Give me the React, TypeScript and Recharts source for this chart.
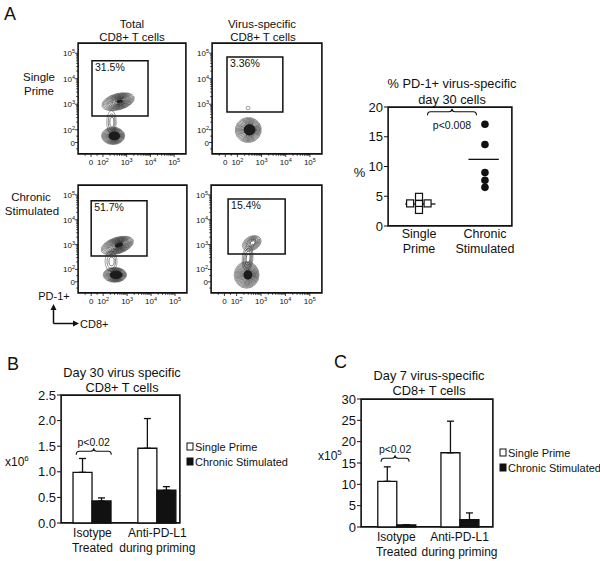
import {
  Bar,
  BarChart,
  ErrorBar,
  ReferenceArea,
  ReferenceDot,
  ReferenceLine,
  Scatter,
  ScatterChart,
  XAxis,
  YAxis,
} from "recharts";

const FONT = '"Liberation Sans", Arial, Helvetica, sans-serif';
const INK = "#111";

// ---- A: flow plots, axes in display decades: 0, 10^2 .. 10^5
const flowMajor = [0, 0.5, 1.5, 2.5, 3.5];
const flowMinor = [-0.25, 0.25];
for (let dec = 0; dec < 3; dec++) {
  for (let k = 2; k <= 9; k++) flowMinor.push(0.5 + dec + Math.log10(k));
}
const flowTicks = [...flowMajor, ...flowMinor];
const FLOW_X: [number, number] = [-0.55, 4.0];
const FLOW_Y: [number, number] = [-0.45, 3.9];

interface Blob {
  x: number;
  y: number;
  rx: number;
  ry: number;
  angle: number;
  rings: number;
  core: number;
}

const singleTotalBlobs: Blob[] = [
  { x: 0.86, y: 0.8, rx: 0.2, ry: 0.45, angle: 0, rings: 3, core: 0 },
  { x: 1.14, y: 1.6, rx: 0.7, ry: 0.32, angle: -15, rings: 12, core: 0.2 },
  { x: 0.93, y: 0.26, rx: 0.49, ry: 0.34, angle: 0, rings: 14, core: 0.5 },
];
const singleVirusBlobs: Blob[] = [
  { x: 0.94, y: 1.35, rx: 0.08, ry: 0.07, angle: 0, rings: 1, core: 0 },
  { x: 0.95, y: 0.49, rx: 0.54, ry: 0.49, angle: -10, rings: 12, core: 0.45 },
];
const chronicTotalBlobs: Blob[] = [
  { x: 0.83, y: 0.82, rx: 0.25, ry: 0.4, angle: 0, rings: 3, core: 0 },
  { x: 1.09, y: 1.46, rx: 0.7, ry: 0.33, angle: -18, rings: 13, core: 0.25 },
  { x: 0.99, y: 0.28, rx: 0.49, ry: 0.3, angle: 0, rings: 14, core: 0.55 },
];
const chronicVirusBlobs: Blob[] = [
  { x: 0.95, y: 0.95, rx: 0.22, ry: 0.5, angle: 5, rings: 4, core: 0 },
  { x: 1.12, y: 1.55, rx: 0.41, ry: 0.28, angle: -30, rings: 7, core: 0 },
  { x: 0.91, y: 0.28, rx: 0.51, ry: 0.54, angle: 0, rings: 13, core: 0.35 },
];

interface Gate {
  x1: number;
  x2: number;
  y1: number;
  y2: number;
  label: string;
}
const singleTotalGate: Gate = { x1: 0.04, x2: 2.4, y1: 1.04, y2: 3.2, label: "31.5%" };
const singleVirusGate: Gate = { x1: 0.07, x2: 2.38, y1: 1.2, y2: 3.35, label: "3.36%" };
const chronicTotalGate: Gate = { x1: 0.0, x2: 2.33, y1: 1.04, y2: 3.27, label: "51.7%" };
const chronicVirusGate: Gate = { x1: 0.15, x2: 2.49, y1: 1.12, y2: 3.34, label: "15.4%" };

// ---- A: dot plot
const dotGroups = [1, 2];
const dotGroupLabels = [["Single", "Prime"], ["Chronic", "Stimulated"]];
const singlePrimeX = [1, 0.865, 1, 1.13, 1];
const singlePrimePct = [4.9, 3.8, 3.7, 3.8, 2.7];
const chronicX = [2, 2, 2, 2, 2];
const chronicPct = [17.1, 13.7, 9.0, 7.7, 6.5];
const dotMeans = [3.7, 11.2];
const dotTicks = [0, 5, 10, 15, 20];

// ---- B and C: bars
const seriesNames = ["Single Prime", "Chronic Stimulated"];
const barGroups = [1, 2];
const barGroupLabels = [["Isotype", "Treated"], ["Anti-PD-L1", "during priming"]];
const day30Single = [0.99, 1.46];
const day30SingleSem = [0.27, 0.58];
const day30Chronic = [0.43, 0.64];
const day30ChronicSem = [0.06, 0.07];
const day30Ticks = [0, 0.5, 1, 1.5, 2, 2.5];
const day7Single = [10.7, 17.4];
const day7SingleSem = [3.4, 7.4];
const day7Chronic = [0.5, 1.7];
const day7ChronicSem = [0, 1.6];
const day7Ticks = [0, 5, 10, 15, 20, 25, 30];

const isMajor = (v: number) => flowMajor.findIndex((m) => Math.abs(m - v) < 1e-6);

function FlowLabel({ x, y, i, anchor }: { x: number; y: number; i: number; anchor: string }) {
  if (i === 0)
    return (
      <text x={x} y={y} textAnchor={anchor} fontSize={8} fill={INK}>
        0
      </text>
    );
  return (
    <text x={x} y={y} textAnchor={anchor} fontSize={8} fill={INK}>
      10
      <tspan dy={-3} fontSize={5.5}>
        {i + 1}
      </tspan>
    </text>
  );
}

const flowTickX = (p: any) => {
  const i = isMajor(p.payload.value);
  return (
    <g>
      <line x1={p.x} x2={p.x} y1={p.y} y2={p.y + (i >= 0 ? 3 : 1.8)} stroke={INK} strokeWidth={0.8} />
      {i >= 0 && <FlowLabel x={p.x} y={p.y + 11} i={i} anchor="middle" />}
    </g>
  );
};

const flowTickY = (p: any) => {
  const i = isMajor(p.payload.value);
  return (
    <g>
      <line x1={p.x} x2={p.x - (i >= 0 ? 3 : 1.8)} y1={p.y} y2={p.y} stroke={INK} strokeWidth={0.8} />
      {i >= 0 && <FlowLabel x={p.x - 3} y={p.y + 3} i={i} anchor="end" />}
    </g>
  );
};

// concentric contours around one population
function blobShape(kx: number, ky: number) {
  return (p: any) => {
    const { cx, cy } = p;
    const b: Blob = p.payload;
    const RX = b.rx * kx;
    const RY = b.ry * ky;
    const els = [];
    for (let i = 0; i < b.rings; i++) {
      const f = 1 - (i / b.rings) * 0.85;
      els.push(
        <ellipse
          key={i}
          cx={cx + (1 - f) * RX * 0.15}
          cy={cy}
          rx={RX * f}
          ry={RY * f}
          fill="none"
          stroke="#1a1a1a"
          strokeOpacity={0.6 + 0.4 * (i / Math.max(1, b.rings))}
          strokeWidth={0.7}
        />
      );
    }
    if (b.core > 0) els.push(<ellipse key="core" cx={cx + RX * 0.1} cy={cy} rx={RX * b.core} ry={RY * b.core} fill="#1c1c1c" />);
    return <g transform={`rotate(${b.angle} ${cx} ${cy})`}>{els}</g>;
  };
}

// plot frame; a hair inside the domain, an area right on the bounds gets dropped
function frame(xd: [number, number], yd: [number, number]) {
  const ex = (xd[1] - xd[0]) * 0.001;
  const ey = (yd[1] - yd[0]) * 0.001;
  return <ReferenceArea x1={xd[0] + ex} x2={xd[1] - ex} y1={yd[0] + ey} y2={yd[1] - ey} fill="none" stroke={INK} strokeWidth={1.6} ifOverflow="visible" />;
}

function FlowPlot({ left, top, w, h, blobs, gate }: { left: number; top: number; w: number; h: number; blobs: Blob[]; gate: Gate }) {
  const kx = w / (FLOW_X[1] - FLOW_X[0]);
  const ky = h / (FLOW_Y[1] - FLOW_Y[0]);
  return (
    <div style={{ position: "absolute", left: left - 22, top: top - 2 }}>
      <ScatterChart width={22 + w + 2} height={2 + h + 14} margin={{ top: 2, right: 2, left: 0, bottom: 0 }}>
        <XAxis type="number" dataKey="x" domain={FLOW_X} ticks={flowTicks} interval={0} allowDataOverflow tickSize={0} tickMargin={0} tickLine={false} axisLine={false} height={14} tick={flowTickX} />
        <YAxis type="number" dataKey="y" domain={FLOW_Y} ticks={flowTicks} interval={0} allowDataOverflow tickSize={0} tickMargin={0} tickLine={false} axisLine={false} width={22} tick={flowTickY} />
        {frame(FLOW_X, FLOW_Y)}
        <Scatter data={blobs} shape={blobShape(kx, ky)} isAnimationActive={false} />
        <ReferenceArea
          x1={gate.x1}
          x2={gate.x2}
          y1={gate.y1}
          y2={gate.y2}
          fill="none"
          stroke={INK}
          strokeWidth={1.5}
          ifOverflow="visible"
          label={{ value: gate.label, position: "insideTopLeft", offset: 3, fontSize: 10.5, fill: INK }}
        />
      </ScatterChart>
    </div>
  );
}

function Brace({ cx, cy, width, label, below }: { cx: number; cy: number; width: number; label: string; below?: boolean }) {
  const x0 = cx - width / 2;
  const x1 = cx + width / 2;
  const ym = cy + 3;
  const yb = cy + 6.5;
  const d = `M${x0},${yb} Q${x0},${ym} ${x0 + 3},${ym} L${cx - 3},${ym} Q${cx},${ym} ${cx},${cy} Q${cx},${ym} ${cx + 3},${ym} L${x1 - 3},${ym} Q${x1},${ym} ${x1},${yb}`;
  return (
    <g>
      <path d={d} fill="none" stroke={INK} strokeWidth={1.1} />
      <text x={cx} y={below ? cy + 20.5 : cy - 2} textAnchor="middle" fontSize={10.5} fill={INK}>
        {label}
      </text>
    </g>
  );
}

const catTick = (labels: string[][], groups: number[], size: number, gap: number) => (p: any) => {
  const i = groups.indexOf(p.payload.value);
  if (i < 0) return <g />;
  return (
    <text x={p.x} y={p.y} textAnchor="middle" fontSize={size} fill={INK}>
      <tspan x={p.x} dy={gap}>
        {labels[i][0]}
      </tspan>
      <tspan x={p.x} dy={size + 2.5}>
        {labels[i][1]}
      </tspan>
    </text>
  );
};

function DotPlot() {
  const squares = singlePrimeX.map((x, i) => ({ x, y: singlePrimePct[i] }));
  const circles = chronicX.map((x, i) => ({ x, y: chronicPct[i] }));
  const xDom: [number, number] = [0.53, 2.41];
  return (
    <div style={{ position: "absolute", left: 358, top: 105 }}>
      <ScatterChart width={30 + 124 + 2} height={2 + 119 + 34} margin={{ top: 2, right: 2, left: 0, bottom: 0 }}>
        <XAxis type="number" dataKey="x" domain={xDom} ticks={dotGroups} interval={0} allowDataOverflow tickSize={0} tickMargin={0} tickLine={false} axisLine={false} height={34} tick={catTick(dotGroupLabels, dotGroups, 12.5, 12)} />
        <YAxis type="number" dataKey="y" domain={[0, 20]} ticks={dotTicks} interval={0} width={30} tickSize={4} tickMargin={1} axisLine={false} tickLine={{ stroke: INK }} tick={{ fontSize: 13, fill: INK }} />
        {frame(xDom, [0, 20])}
        <Scatter data={squares} isAnimationActive={false} shape={(p: any) => <rect x={p.cx - 3.5} y={p.cy - 3.5} width={7} height={7} fill="#fff" stroke={INK} strokeWidth={1.2} />} />
        <Scatter data={circles} isAnimationActive={false} shape={(p: any) => <circle cx={p.cx} cy={p.cy} r={3.8} fill={INK} />} />
        {dotGroups.map((g, i) => (
          <ReferenceLine key={g} segment={[{ x: g + (i === 0 ? 0.02 : -0.02) - 0.23, y: dotMeans[i] }, { x: g + (i === 0 ? 0.02 : -0.02) + 0.23, y: dotMeans[i] }]} stroke={INK} strokeWidth={1.3} ifOverflow="visible" />
        ))}
        <ReferenceDot x={1.5} y={19.7} r={0} ifOverflow="visible" shape={(p: any) => <Brace cx={p.cx} cy={p.cy} width={49} label="p<0.008" below />} />
      </ScatterChart>
    </div>
  );
}

interface BarPanelProps {
  left: number;
  top: number;
  w: number;
  h: number;
  xDom: [number, number];
  yTicks: number[];
  fmt: (v: number) => string;
  single: number[];
  singleSem: number[];
  chronic: number[];
  chronicSem: number[];
  brace: { x: number; y: number; width: number };
}

function BarPanel(props: BarPanelProps) {
  const { left, top, w, h, xDom, yTicks, fmt, single, singleSem, chronic, chronicSem, brace } = props;
  const yDom: [number, number] = [yTicks[0], yTicks[yTicks.length - 1]];
  const data = barGroups.map((g, i) => ({
    g,
    single: single[i],
    singleErr: [0, singleSem[i]],
    chronic: chronic[i],
    chronicErr: [0, chronicSem[i]],
  }));
  return (
    <div style={{ position: "absolute", left: left - 40, top: top - 2 }}>
      <BarChart width={40 + w + 2} height={2 + h + 34} data={data} barGap={0} margin={{ top: 2, right: 2, left: 0, bottom: 0 }}>
        <XAxis type="number" dataKey="g" domain={xDom} ticks={barGroups} interval={0} allowDataOverflow tickSize={0} tickMargin={0} tickLine={false} axisLine={false} height={34} tick={catTick(barGroupLabels, barGroups, 12, 14)} />
        <YAxis type="number" domain={yDom} ticks={yTicks} interval={0} width={40} tickSize={4} tickMargin={1} axisLine={false} tickLine={{ stroke: INK }} tick={{ fontSize: 13, fill: INK }} tickFormatter={fmt} />
        <Bar dataKey="single" fill="#fff" stroke={INK} strokeWidth={1.3} barSize={19} isAnimationActive={false}>
          <ErrorBar dataKey="singleErr" direction="y" width={3.5} stroke={INK} strokeWidth={1.3} />
        </Bar>
        <Bar dataKey="chronic" fill={INK} stroke={INK} strokeWidth={1.3} barSize={19} isAnimationActive={false}>
          <ErrorBar dataKey="chronicErr" direction="y" width={3.5} stroke={INK} strokeWidth={1.3} />
        </Bar>
        {frame(xDom, yDom)}
        <ReferenceDot x={brace.x} y={brace.y} r={0} ifOverflow="visible" shape={(p: any) => <Brace cx={p.cx} cy={p.cy} width={brace.width} label="p<0.02" />} />
      </BarChart>
    </div>
  );
}

function Legend({ left, top }: { left: number; top: number }) {
  return (
    <svg style={{ position: "absolute", left, top }} width={110} height={32}>
      {seriesNames.map((name, i) => (
        <g key={name}>
          <rect x={1} y={2 + i * 15} width={6} height={7} fill={i === 0 ? "#fff" : INK} stroke={INK} strokeWidth={1} />
          <text x={9} y={9.5 + i * 15} fontSize={11} fill={INK}>
            {name}
          </text>
        </g>
      ))}
    </svg>
  );
}

function T({ x, y, s, children, a = "middle" }: { x: number; y: number; s: number; children: any; a?: string }) {
  return (
    <text x={x} y={y} fontSize={s} textAnchor={a} fill={INK}>
      {children}
    </text>
  );
}

export default function App() {
  return (
    <div style={{ position: "absolute", left: 0, top: 0, width: 600, height: 561, background: "#fff", fontFamily: FONT, overflow: "hidden" }}>
      <style>{`.recharts-surface{overflow:visible}`}</style>
      <FlowPlot left={78} top={43} w={108} h={111} blobs={singleTotalBlobs} gate={singleTotalGate} />
      <FlowPlot left={212} top={43} w={110} h={111} blobs={singleVirusBlobs} gate={singleVirusGate} />
      <FlowPlot left={78} top={185} w={109} h={108} blobs={chronicTotalBlobs} gate={chronicTotalGate} />
      <FlowPlot left={211} top={185} w={111} h={108} blobs={chronicVirusBlobs} gate={chronicVirusGate} />
      <DotPlot />
      <BarPanel
        left={61}
        top={395}
        w={119}
        h={128}
        xDom={[0.515, 2.35]}
        yTicks={day30Ticks}
        fmt={(v) => v.toFixed(1)}
        single={day30Single}
        singleSem={day30SingleSem}
        chronic={day30Chronic}
        chronicSem={day30ChronicSem}
        brace={{ x: 1.02, y: 1.46, width: 35 }}
      />
      <BarPanel
        left={361}
        top={399}
        w={132}
        h={128}
        xDom={[0.44, 2.53]}
        yTicks={day7Ticks}
        fmt={(v) => String(v)}
        single={day7Single}
        singleSem={day7SingleSem}
        chronic={day7Chronic}
        chronicSem={day7ChronicSem}
        brace={{ x: 0.98, y: 16.8, width: 28 }}
      />
      <Legend left={186} top={441} />
      <Legend left={499} top={447} />
      <svg style={{ position: "absolute", left: 0, top: 0, pointerEvents: "none" }} width={600} height={561}>
        <T x={4} y={20} s={18} a="start">A</T>
        <T x={7} y={370} s={18} a="start">B</T>
        <T x={334} y={368} s={18} a="start">C</T>
        <T x={132} y={27.5} s={11.5}>Total</T>
        <T x={132} y={40.5} s={11.5}>CD8+ T cells</T>
        <T x={262} y={27.5} s={11.5}>Virus-specific</T>
        <T x={263} y={40.5} s={11.5}>CD8+ T cells</T>
        <T x={39} y={80.5} s={11.5}>Single</T>
        <T x={39} y={94.5} s={11.5}>Prime</T>
        <T x={31} y={200.5} s={11.5}>Chronic</T>
        <T x={32} y={215} s={11.5}>Stimulated</T>
        <T x={54} y={299.5} s={11}>PD-1+</T>
        <line x1={53.5} y1={323.5} x2={53.5} y2={309} stroke={INK} strokeWidth={1.5} />
        <path d="M53.5,304 L50.5,310 L56.5,310 Z" fill={INK} />
        <line x1={53.5} y1={323.5} x2={74} y2={323.5} stroke={INK} strokeWidth={1.5} />
        <path d="M79,323.5 L73,320.5 L73,326.5 Z" fill={INK} />
        <T x={80} y={327.5} s={11} a="start">CD8+</T>
        <T x={452} y={88} s={12.8}>% PD-1+ virus-specific</T>
        <T x={452} y={103.5} s={12.8}>day 30 cells</T>
        <T x={359.5} y={176.5} s={13}>%</T>
        <T x={122} y={376.5} s={12.8}>Day 30 virus specific</T>
        <T x={122} y={391.5} s={12.8}>CD8+ T cells</T>
        <T x={429} y={379.5} s={12.8}>Day 7 virus-specific</T>
        <T x={429} y={395} s={12.8}>CD8+ T cells</T>
        <text x={5} y={466} fontSize={12} fill={INK}>
          x10<tspan dy={-5} fontSize={8}>6</tspan>
        </text>
        <text x={318} y={460} fontSize={12} fill={INK}>
          x10<tspan dy={-5} fontSize={8}>5</tspan>
        </text>
      </svg>
    </div>
  );
}
